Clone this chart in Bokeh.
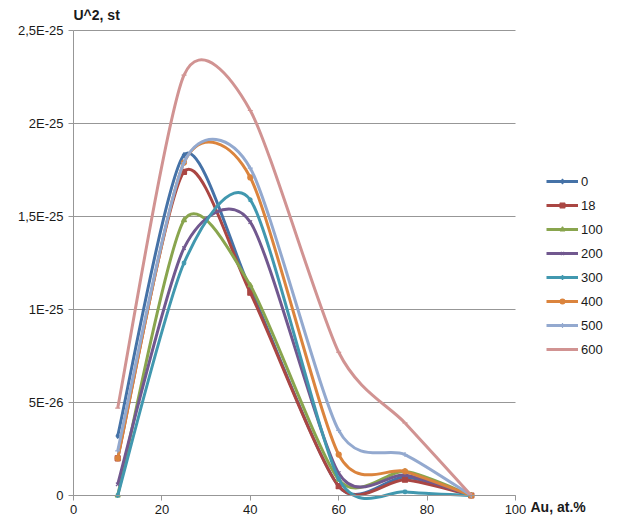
from bokeh.plotting import figure
from bokeh.models import FixedTicker, Legend, LegendItem, Label, LinearAxis, Range1d
from bokeh.embed import file_html
from bokeh.resources import INLINE

# Au content, at.%
au = [10, 25, 40, 60, 75, 90]
# U^2 values in units of 1E-25 st
u2_0   = [0.32, 1.83, 1.11, 0.05, 0.10, 0.0]
u2_18  = [0.20, 1.74, 1.09, 0.05, 0.085, 0.0]
u2_100 = [0.00, 1.48, 1.13, 0.085, 0.13, 0.0]
u2_200 = [0.06, 1.33, 1.47, 0.12, 0.11, 0.0]
u2_300 = [0.00, 1.25, 1.59, 0.09, 0.02, 0.0]
u2_400 = [0.20, 1.79, 1.71, 0.22, 0.13, 0.0]
u2_500 = [0.24, 1.79, 1.76, 0.35, 0.22, 0.0]
u2_600 = [0.47, 2.26, 2.07, 0.77, 0.39, 0.0]

series_names = ["0", "18", "100", "200", "300", "400", "500", "600"]
series_values = [u2_0, u2_18, u2_100, u2_200, u2_300, u2_400, u2_500, u2_600]
colors = ["#4572A7", "#AA4643", "#89A54E", "#71588F", "#4198AF", "#DB843D", "#93A9CF", "#D19392"]
markers = ["diamond", "square", "triangle", "x", "asterisk", "circle", "cross", "dash"]

y_ticks = [0, 0.5, 1.0, 1.5, 2.0, 2.5]
y_tick_labels = ["0", "5E-26", "1E-25", "1,5E-25", "2E-25", "2,5E-25"]
x_ticks = [0, 20, 40, 60, 80, 100]

FONT = "Liberation Sans"
TXT = "#1a1a1a"
GRID = "#979797"

W, H = 609, 516
# pixel placement of the data area inside the figure
PX_X0, PX_X100 = 73, 515
PX_Y0, PX_YTOP = 495, 30
sx = (PX_X100 - PX_X0) / 100.0
sy = (PX_Y0 - PX_YTOP) / 2.5

p = figure(width=W, height=H,
           x_range=Range1d(-PX_X0 / sx, (W - PX_X0) / sx),
           y_range=Range1d(-(H - PX_Y0) / sy, PX_Y0 / sy),
           x_axis_location=None, y_axis_location=None,
           output_backend="svg", toolbar_location=None,
           min_border=0)
p.outline_line_color = None
p.background_fill_color = "white"
p.xgrid.visible = False
p.ygrid.visible = False

# horizontal gridlines across the data area
p.segment(x0=[x_ticks[0]] * len(y_ticks), x1=[x_ticks[-1]] * len(y_ticks),
          y0=y_ticks, y1=y_ticks, line_color=GRID, line_width=1)

xaxis = LinearAxis(ticker=FixedTicker(ticks=x_ticks), fixed_location=0,
                   bounds=(x_ticks[0], x_ticks[-1]))
yaxis = LinearAxis(ticker=FixedTicker(ticks=y_ticks), fixed_location=0,
                   bounds=(y_ticks[0], y_ticks[-1]))
yaxis.major_label_overrides = {t: s for t, s in zip(y_ticks, y_tick_labels)}
for ax in (xaxis, yaxis):
    ax.axis_line_color = GRID
    ax.major_tick_line_color = GRID
    ax.minor_tick_line_color = None
    ax.major_tick_in = 0
    ax.major_tick_out = 5
    ax.major_label_text_font = FONT
    ax.major_label_text_font_size = "13px"
    ax.major_label_text_color = TXT
yaxis.major_label_standoff = 5
xaxis.major_label_standoff = 4
p.add_layout(xaxis, "below")
p.add_layout(yaxis, "left")

K = 1.0 / 8.0  # smoothing tension for the smoothed lines

items = []
for name, vals, col, mk in zip(series_names, series_values, colors, markers):
    n = len(au)
    x0, y0, x1, y1, cx0, cy0, cx1, cy1 = [], [], [], [], [], [], [], []
    for i in range(n - 1):
        im1 = max(i - 1, 0)
        ip2 = min(i + 2, n - 1)
        x0.append(au[i]); y0.append(vals[i])
        x1.append(au[i + 1]); y1.append(vals[i + 1])
        cx0.append(au[i] + (au[i + 1] - au[im1]) * K)
        cy0.append(vals[i] + (vals[i + 1] - vals[im1]) * K)
        cx1.append(au[i + 1] - (au[ip2] - au[i]) * K)
        cy1.append(vals[i + 1] - (vals[ip2] - vals[i]) * K)
    r_line = p.bezier(x0=x0, y0=y0, x1=x1, y1=y1, cx0=cx0, cy0=cy0, cx1=cx1, cy1=cy1,
                      line_color=col, line_width=3)
    r_mark = p.scatter(au, vals, marker=mk, size=5, fill_color=col, line_color=col, line_width=1.2)
    items.append(LegendItem(label=name, renderers=[r_line, r_mark]))

legend = Legend(items=items, location=(546, H - 359), orientation="vertical",
                glyph_width=32, glyph_height=12, label_height=20, spacing=4,
                label_standoff=3, padding=0, margin=0,
                border_line_color=None, background_fill_alpha=0,
                label_text_font=FONT, label_text_font_size="13px", label_text_color=TXT)
p.add_layout(legend, "center")

title = Label(x=0, y=(PX_Y0 - 14) / sy, text="U^2, st", text_font=FONT,
              text_font_size="14px", text_font_style="bold", text_color=TXT,
              text_baseline="middle", text_align="left")
p.add_layout(title)

xlabel = Label(x=100, y=0, x_offset=15, y_offset=-11,
               text="Au, at.%", text_font=FONT, text_font_size="14px",
               text_font_style="bold", text_color=TXT, text_baseline="middle",
               text_align="left")
p.add_layout(xlabel)

open("out.html", "w").write(file_html(p, INLINE))
